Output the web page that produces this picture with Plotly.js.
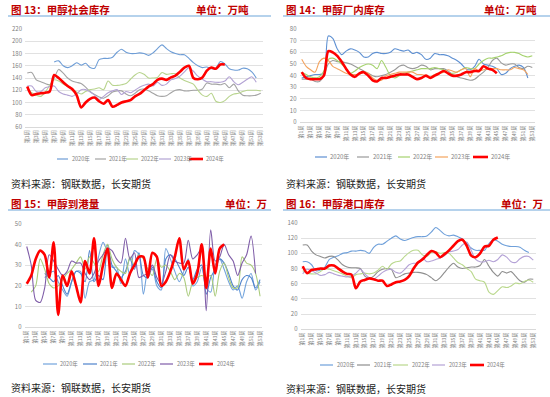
<!DOCTYPE html>
<html><head><meta charset="utf-8">
<script src="https://cdn.plot.ly/plotly-3.0.1.min.js"></script>
<style>html,body{margin:0;padding:0;background:#fff;}#chart{width:550px;height:397px;}</style>
</head><body><div id="chart"></div>
<script>
// ---------- categories / ticks ----------
const weeks = [1,2,3,4,5,6,7,8,9,10,11,12,13,14,15,16,17,18,19,20,21,22,23,24,25,26,27,28,29,30,31,32,33,34,35,36,37,38,39,40,41,42,43,44,45,46,47,48,49,50,51,52,53];
const weekTickVals = [1,3,5,7,9,11,13,15,17,19,21,23,25,27,29,31,33,35,37,39,41,43,45,47,49,51,53];
const weekTickText = ['第1周','第3周','第5周','第7周','第9周','第11周','第13周','第15周','第17周','第19周','第21周','第23周','第25周','第27周','第29周','第31周','第33周','第35周','第37周','第39周','第41周','第43周','第45周','第47周','第49周','第51周','第53周'];
const yearNames = ['2020年','2021年','2022年','2023年','2024年'];

// ---------- 图13 甲醇社会库存 ----------
const soc2020 = [null,null,null,null,null,null,166,168,160,157,160,165,161,164,157,156,170,172,172,174,182,187,182,180,180,181,180,177,181,188,194,188,183,180,178,178,172,165,160,157,158,155,156,167,163,155,153,153,156,155,150,140,null];
const soc2021 = [148,149,137,134,131,129,140,154,148,140,135,133,131,125,118,113,109,107,111,117,119,119,114,111,115,121,122,119,115,111,110,111,116,120,121,119,119,120,120,122,132,130,130,129,131,124,130,119,112,111,111,112,115];
const soc2022 = [124,116,112,110,117,128,137,135,130,126,121,117,114,118,121,122,124,121,135,128,128,129,131,138,145,149,146,140,140,141,149,146,147,147,140,136,133,130,120,112,110,115,102,100,103,110,114,115,118,120,120,120,119];
const soc2023 = [127,127,118,118,124,126,127,118,114,112,110,114,121,121,117,112,105,110,116,119,121,113,118,116,120,125,128,130,127,133,128,130,137,139,143,150,157,151,143,138,134,134,133,133,135,142,134,129,133,138,142,133,null];
const soc2024 = [126,112,114,115,116,118,145,140,133,127,122,112,92,100,106,108,102,98,104,93,96,100,102,104,110,114,120,126,130,137,139,137,141,144,150,157,160,140,138,141,152,157,155,162,162,null,null,null,null,null,null,null,null];

// ---------- 图14 甲醇厂内库存 ----------
const fac2020 = [38,39,40,41,41,42,74,72,63,58,61,63,62,60,56,56,59,60,59,59,60,63,62,61,62,59,60,58,54,55,59,58,58,57,55,53,50,46,45,48,54,50,49,48,46,41,42,46,48,49,47,38,null];
const fac2021 = [37,37,37,35,35,40,50,53,52,52,51,50,48,46,44,42,40,39,40,41,43,45,48,49,47,46,47,49,48,45,46,46,46,44,41,39,38,37,36,37,40,43,47,53,55,51,49,50,50,47,46,48,47];
const fac2022 = [43,41,39,38,39,44,54,55,53,50,46,42,44,47,49,50,49,46,53,47,40,38,40,42,43,44,45,46,46,46,47,46,45,42,42,43,45,47,46,46,50,53,55,55,56,57,59,60,60,59,57,56,57];
const fac2023 = [54,48,45,43,52,55,53,48,46,44,42,41,41,41,43,42,38,36,36,40,41,42,43,43,43,43,41,41,40,39,41,42,43,45,44,43,45,46,39,46,44,45,46,46,46,45,45,45,47,46,45,41,null];
const fac2024 = [43,38,37,37,37,40,61,60,57,52,46,41,39,42,43,40,36,35,38,38,39,40,41,41,41,39,37,38,40,38,40,42,44,42,40,40,41,43,43,44,44,48,46,45,42,null,null,null,null,null,null,null,null];

// ---------- 图15 甲醇到港量 ----------
const arr2020 = [null,null,null,null,24,26,27,22,18,15,22,27,27,14,22,23,34,41,36,29,29,21,33,25,37,35,16,27,28,20,18,38,33,27,22,27,33,20,22,29,19,17,30,33,28,22,18,20,14,22,26,18,22];
const arr2021 = [null,null,null,null,26,24,22,25,20,16,22,27,26,22,37,22,25,23,40,30,27,24,27,33,28,36,25,24,29,22,19,33,35,33,29,25,29,23,28,30,16,24,28,33,31,26,20,18,23,25,24,19,23];
const arr2022 = [null,17,20,33,28,21,19,20,23,26,28,31,34,28,34,31,27,35,40,33,29,27,26,34,30,35,33,28,25,33,29,30,27,23,26,24,15,22,24,25,24,25,15,27,31,24,19,19,34,31,30,26,15];
const arr2023 = [39,30,13,12,19,35,32,28,25,27,32,31,31,26,23,26,32,35,38,37,33,31,43,33,36,24,25,26,30,24,21,27,35,32,31,31,42,33,35,38,8,47,32,34,40,35,32,25,31,35,44,26,null];
const arr2024 = [21,25,33,37,35,24,41,6,25,20,27,20,12,32,26,43,20,30,38,19,26,23,20,26,30,34,34,24,36,34,20,22,27,34,43,28,32,21,26,40,19,38,26,38,40,null,null,null,null,null,null,null,null];

// ---------- 图16 甲醇港口库存 ----------
const port2020 = [89,89,85,77,78,82,92,95,97,100,101,103,103,104,103,100,108,112,112,116,120,123,119,117,119,121,122,122,123,128,134,130,125,123,124,122,119,113,107,104,104,104,113,118,116,112,110,109,109,108,104,101,null];
const port2021 = [111,111,103,98,96,94,96,96,91,85,82,81,81,80,70,67,70,76,79,80,79,68,70,73,74,75,75,74,72,68,64,68,75,82,87,82,80,81,82,82,84,92,83,75,70,76,74,76,70,64,62,66,66];
const port2022 = [77,74,73,73,76,80,79,77,75,73,70,68,72,73,74,73,74,78,83,79,86,89,90,96,101,104,104,98,96,101,102,100,101,100,94,88,85,80,76,66,64,62,49,46,51,56,55,57,61,60,63,65,62];
const port2023 = [73,79,77,74,71,72,75,73,71,70,69,70,74,79,73,68,66,70,75,78,79,75,74,79,85,87,87,94,89,90,92,94,97,102,103,105,111,115,104,92,89,89,91,89,92,98,95,89,88,93,96,96,91];
const port2024 = [83,74,78,79,80,80,84,84,80,76,73,72,54,63,65,67,66,64,64,57,59,62,63,65,70,80,88,92,98,103,101,95,99,104,110,116,118,110,97,95,100,109,110,118,121,null,null,null,null,null,null,null,null];

// ---------- build ----------
const W = 550, H = 397;
const px = x => x / W;
const py = y => 1 - y / H;
const RED = '#FF0000';

const panels = [
  {title:'图 13：甲醇社会库存', unit:'单位：万吨', series:[soc2020,soc2021,soc2022,soc2023,soc2024],
   colors:['#6E9DD6','#A3A3A3','#B8D48E','#B3A3D4',RED], dom:[25,263,29,127], range:[60,220], dtick:20,
   tx:9, ty:9, ux:251, ul:[8,271,16], src:[9,183], leg:{y:159, fs:5.5, items:[[57,68,71],[95,106,108],[126,138,140],[159,171,173],[189,203,205]]}},
  {title:'图 14：甲醇厂内库存', unit:'单位：万吨', series:[fac2020,fac2021,fac2022,fac2023,fac2024],
   colors:['#5E90D2','#9A9A9A','#A5D26E','#F3A35E',RED], dom:[299.5,534.5,29,122.3], range:[0,80], dtick:10,
   tx:284, ty:9, ux:539, ul:[283,550,16], src:[284,183], leg:{y:157, fs:6, items:[[315,327,329],[357,369,372],[398,410,412],[435,448,450],[473,488,490]]}},
  {title:'图 15：甲醇到港量', unit:'单位：万', series:[arr2020,arr2021,arr2022,arr2023,arr2024],
   colors:['#72A3DC','#4F83CC','#AACB7C','#7F5DA8',RED], dom:[24.5,262.3,223.7,327.3], range:[0,50], dtick:10,
   tx:9, ty:203, ux:269, ul:[8,271,210], src:[9,387], leg:{y:364, fs:5.5, items:[[43,57,59],[83,97,99],[122,135,137],[160,173,176],[199,213,216]]}},
  {title:'图 16：甲醇港口库存', unit:'单位：万', series:[port2020,port2021,port2022,port2023,port2024],
   colors:['#6FA0DA','#8E8E8E','#B9D88C','#B4A2D6',RED], dom:[300.5,535.5,223,329.3], range:[0,140], dtick:20,
   tx:284, ty:203, ux:545, ul:[283,550,210], src:[284,388], leg:{y:365, fs:5.5, items:[[320,333,336],[357,370,373],[393,408,411],[432,445,448],[470,484,486]]}}
];

const data = [];
const layout = {
  width: W, height: H, margin:{l:0,r:0,t:0,b:0}, showlegend:false,
  paper_bgcolor:'#fff', plot_bgcolor:'#fff',
  font:{family:'"Noto Sans CJK SC", "Noto Sans", sans-serif', color:'#7f7f7f'},
  annotations:[], shapes:[]
};

panels.forEach((p, i) => {
  const n = i === 0 ? '' : String(i + 1);
  const xa = 'x' + n, ya = 'y' + n;
  p.series.forEach((s, k) => {
    data.push({x: weeks, y: s, xaxis: xa, yaxis: ya, type:'scatter', mode:'lines',
      connectgaps:false, hoverinfo:'skip',
      line:{color:p.colors[k], width: k === 4 ? 2.6 : 1.1, shape:'spline', smoothing:0.8}});
  });
  layout['xaxis' + n] = {domain:[px(p.dom[0]), px(p.dom[1])], anchor: ya, range:[0.5,53.5],
    tickmode:'array', tickvals: weekTickVals, ticktext: weekTickText, tickangle:-90,
    tickfont:{size:5.2, color:'#7f7f7f'}, showgrid:false, zeroline:false,
    showline:true, linecolor:'#D9D9D9', linewidth:1, ticks:'', fixedrange:true};
  layout['yaxis' + n] = {domain:[py(p.dom[3]), py(p.dom[2])], anchor: xa, range:p.range,
    dtick:p.dtick, tick0:0, tickfont:{size:6, color:'#7f7f7f'}, gridcolor:'#D9D9D9', gridwidth:0.8,
    zeroline:false, showline:false, ticks:'', ticklabelstandoff:2, fixedrange:true};

  // title + unit
  layout.annotations.push({xref:'paper', yref:'paper', x:px(p.tx), y:py(p.ty), xanchor:'left', yanchor:'middle',
    text:'<b>' + p.title + '</b>', showarrow:false, font:{size:10.5, color:'#C00000'}});
  layout.annotations.push({xref:'paper', yref:'paper', x:px(p.ux), y:py(p.ty), xanchor:'right', yanchor:'middle',
    text:'<b>' + p.unit + '</b>', showarrow:false, font:{size:10.5, color:'#C00000'}});
  layout.shapes.push({type:'line', xref:'paper', yref:'paper', x0:px(p.ul[0]), x1:px(p.ul[1]), y0:py(p.ul[2]), y1:py(p.ul[2]),
    line:{color:'#9DC3E6', width:1.6}});
  // source
  layout.annotations.push({xref:'paper', yref:'paper', x:px(p.src[0]), y:py(p.src[1]), xanchor:'left', yanchor:'middle',
    text:'资料来源：钢联数据，长安期货', showarrow:false, font:{size:10, color:'#222222'}});
  // legend
  p.leg.items.forEach((it, k) => {
    layout.shapes.push({type:'line', xref:'paper', yref:'paper', x0:px(it[0]), x1:px(it[1]), y0:py(p.leg.y), y1:py(p.leg.y),
      line:{color:p.colors[k], width: k === 4 ? 2.6 : 1.2}});
    layout.annotations.push({xref:'paper', yref:'paper', x:px(it[2]), y:py(p.leg.y), xanchor:'left', yanchor:'middle',
      text:yearNames[k], showarrow:false, font:{size:p.leg.fs, color:'#7f7f7f'}, borderpad:0});
  });
});

Plotly.newPlot('chart', data, layout, {staticPlot:true, displayModeBar:false});
</script>
</body></html>
